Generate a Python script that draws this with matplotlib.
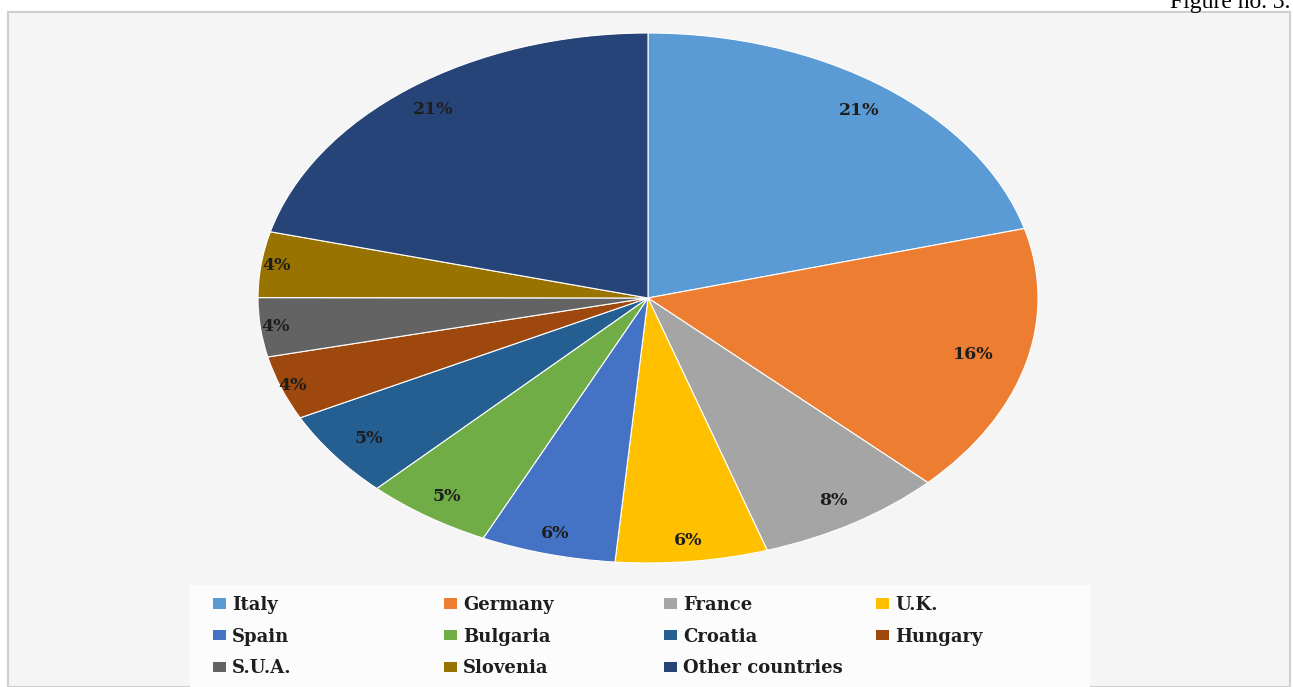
import matplotlib
matplotlib.use("Agg")
import matplotlib.pyplot as plt
from matplotlib.patches import Rectangle, Patch
import numpy as np

categories = ["Italy", "Germany", "France", "U.K.", "Spain", "Bulgaria",
              "Croatia", "Hungary", "S.U.A.", "Slovenia", "Other countries"]
shares = [20.8, 16.5, 7.8, 6.3, 5.6, 5.3, 5.3, 3.9, 3.6, 4.0, 21.0]
colors = ["#5B9BD5", "#ED7D31", "#A5A5A5", "#FFC000", "#4472C4", "#70AD47",
          "#255E91", "#9E480E", "#636363", "#997300", "#264478"]
label_dist = [0.89, 0.86, 0.90, 0.92, 0.92, 0.91, 0.89, 0.97, 0.96, 0.96, 0.90]

W, H = 1293, 687
fig = plt.figure(figsize=(W / 100, H / 100), dpi=100)
fig.patch.set_facecolor("white")

# chart area background with border
fig.add_artist(Rectangle((8 / W, 0), (1290 - 8) / W, (H - 12) / H,
                         transform=fig.transFigure, facecolor="#f5f5f5",
                         edgecolor="#cfcfcf", linewidth=1.5, zorder=0))
# legend background
fig.add_artist(Rectangle((190 / W, 0), (1090 - 190) / W, (H - 585) / H,
                         transform=fig.transFigure, facecolor="#fcfcfc",
                         edgecolor="none", zorder=0.5))

fig.text(1290 / W, 1 - 8 / H, "Figure no. 3.", ha="right", va="baseline",
         family="Liberation Serif", fontsize=17, color="black")

cx, cy, rx, ry = 648, 298, 390, 265
ax = fig.add_axes([(cx - rx) / W, (H - cy - ry) / H, 2 * rx / W, 2 * ry / H])
wedges, texts, autotexts = ax.pie(
    shares, colors=colors, startangle=90, counterclock=False,
    autopct="%.0f%%", pctdistance=0.9,
    wedgeprops=dict(edgecolor="white", linewidth=0.8),
    textprops=dict(family="DejaVu Serif", fontweight="bold",
                   fontsize=12.5, color="#1e1e1e"))
ax.set_aspect("auto")
ax.set_xlim(-1, 1)
ax.set_ylim(-1, 1)
ax.axis("off")

cum = np.cumsum([0] + shares)
tot = cum[-1]
for i, t in enumerate(autotexts):
    mid = 90 - 360 * (cum[i] + cum[i + 1]) / 2 / tot
    a = np.deg2rad(mid)
    t.set_position((label_dist[i] * np.cos(a), label_dist[i] * np.sin(a)))

# legend: one legend per column, rows read left-to-right
col_x = [204, 435, 655, 867]
ncol = 4
for j in range(ncol):
    idx = list(range(j, len(categories), ncol))
    handles = [Patch(facecolor=colors[k], edgecolor="none") for k in idx]
    labels = [categories[k] for k in idx]
    leg = fig.legend(handles, labels, loc="upper left",
                     bbox_to_anchor=(col_x[j] / W, 1 - 587 / H),
                     frameon=False, handlelength=0.7, handleheight=0.5,
                     handletextpad=0.35, labelspacing=0.75, borderpad=0,
                     prop=dict(family="DejaVu Serif", weight="bold",
                               size=13))
    for txt in leg.get_texts():
        txt.set_color("#1e1e1e")

fig.savefig("out.png", dpi=100, facecolor="white")
